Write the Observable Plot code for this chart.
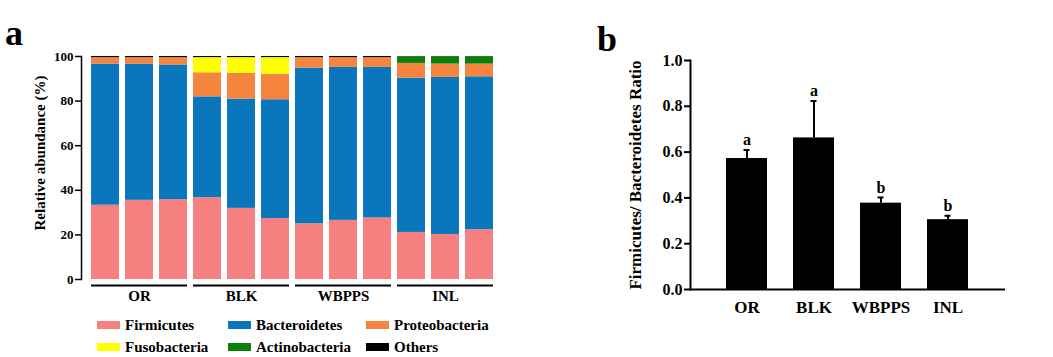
<!DOCTYPE html>
<html><head><meta charset="utf-8">
<script src="https://cdn.jsdelivr.net/npm/d3@7"></script>
<script src="https://cdn.jsdelivr.net/npm/@observablehq/plot@0.6"></script>
<style>
body{margin:0;background:#fff;}
#wrap{position:relative;width:1053px;height:357px;overflow:hidden;background:#fff;font-family:"Liberation Serif","Times New Roman",serif;font-weight:bold;color:#000;}
#a,#b{position:absolute;top:0;}
#a{left:0px}
#b{left:560px}
.panel{position:absolute;font-size:36px;font-weight:bold;line-height:1;}
.leg{position:absolute;font-size:15px;height:16px;display:flex;align-items:center;white-space:nowrap}
.sw{display:inline-block;width:23px;height:8px;margin-right:5px}
</style></head><body>
<div id="wrap">
  <div id="a"></div>
  <div id="b"></div>
  <div class="panel" style="left:5px;top:15px">a</div>
  <div class="panel" style="left:597px;top:21px">b</div>
  <div id="legend"></div>
</div>
<script>
// ---------- Panel a data ----------
const samples = ["OR-1","OR-2","OR-3","BLK-1","BLK-2","BLK-3","WBPPS-1","WBPPS-2","WBPPS-3","INL-1","INL-2","INL-3"];
const sampleGroup = ["OR","OR","OR","BLK","BLK","BLK","WBPPS","WBPPS","WBPPS","INL","INL","INL"];
const groups = ["OR","BLK","WBPPS","INL"];
const phyla = ["Firmicutes","Bacteroidetes","Proteobacteria","Fusobacteria","Actinobacteria","Others"];
const phylaColors = ["#f68080","#0a77bd","#f5843f","#ffff00","#0b800b","#000000"];
const firmicutes     = [33.3,35.5,35.8,36.7,31.9,27.3,25.0,26.5,27.6,21.1,20.2,22.3];
const bacteroidetes  = [63.3,61.1,60.4,45.2,49.0,53.3,69.8,68.6,67.5,69.2,70.4,68.6];
const proteobacteria = [ 2.9, 2.9, 3.3,10.8,11.5,11.4, 4.7, 4.4, 4.4, 6.6, 6.0, 5.7];
const fusobacteria   = [ 0.0, 0.0, 0.0, 6.8, 7.1, 7.5, 0.0, 0.0, 0.0, 0.0, 0.0, 0.0];
const actinobacteria = [ 0.0, 0.0, 0.0, 0.0, 0.0, 0.0, 0.0, 0.0, 0.0, 3.0, 3.3, 3.3];
const others         = [ 0.5, 0.5, 0.5, 0.5, 0.5, 0.5, 0.5, 0.5, 0.5, 0.1, 0.1, 0.1];
const yTicksA = [0,20,40,60,80,100];

// ---------- Panel b data ----------
const ratioGroups = ["OR","BLK","WBPPS","INL"];
const ratioMean = [0.572,0.662,0.377,0.305];
const ratioSD   = [0.037,0.161,0.025,0.017];
const sigLetters = ["a","a","b","b"];
const yTicksB = [0,0.2,0.4,0.6,0.8,1.0];

const font = "Liberation Serif, Times New Roman, serif";
const series = [firmicutes,bacteroidetes,proteobacteria,fusobacteria,actinobacteria,others];
const rows = [];
samples.forEach((s,i)=>phyla.forEach((p,j)=>rows.push({sample:s, phylum:p, value:series[j][i]})));
const firstOf = g => samples[sampleGroup.indexOf(g)];
const lastOf = g => samples[sampleGroup.lastIndexOf(g)];
const midOf = g => samples[sampleGroup.indexOf(g)+1];

const plotA = Plot.plot({
  width:520, height:310, marginLeft:81, marginRight:17, marginTop:56, marginBottom:31,
  style:{fontFamily:font, fontWeight:"bold", fontSize:"13px", background:"transparent", color:"#000"},
  x:{domain:samples, paddingInner:0.185, paddingOuter:0.233, axis:null},
  y:{domain:[0,100], axis:null},
  color:{domain:phyla, range:phylaColors},
  marks:[
    Plot.barY(rows,{x:"sample", y:"value", fill:"phylum", order:phyla}),
    Plot.frame({anchor:"left", strokeWidth:1.5}),
    Plot.axisY(yTicksA,{tickSize:6, tickPadding:2, fontSize:13, fontFamily:font, fontWeight:"bold", strokeWidth:1.5, label:null}),
    Plot.text(["Relative abundance (%)"],{text:d=>d, frameAnchor:"left", textAnchor:"middle", rotate:-90, dx:-41, dy:-15, fontSize:15, fontFamily:font, fontWeight:"bold"}),
    Plot.ruleY(groups,{x1:firstOf, x2:lastOf, y:()=>0, dy:6, strokeWidth:2}),
    Plot.text(groups,{x:midOf, text:d=>d, frameAnchor:"bottom", dy:21, fontSize:15, fontFamily:font, fontWeight:"bold"})
  ]
});
document.getElementById("a").appendChild(plotA);

const bdata = ratioGroups.map((g,i)=>({g, mean:ratioMean[i], top:ratioMean[i]+ratioSD[i], letter:sigLetters[i]}));
const plotB = Plot.plot({
  width:493, height:320, marginLeft:130, marginRight:48, marginTop:60, marginBottom:31,
  style:{fontFamily:font, fontWeight:"bold", fontSize:"15px", background:"transparent", color:"#000"},
  x:{domain:ratioGroups, paddingInner:0.383, paddingOuter:0.53, axis:null},
  y:{domain:[0,1], axis:null},
  marks:[
    Plot.barY(bdata,{x:"g", y:"mean", fill:"#000"}),
    Plot.ruleX(bdata,{x:"g", y1:"mean", y2:"top", strokeWidth:2}),
    Plot.tickY(bdata,{x:"g", y:"top", strokeWidth:2, insetLeft:17.5, insetRight:17.5}),
    Plot.text(bdata,{x:"g", y:"top", text:"letter", dy:-10, fontSize:16, fontFamily:font, fontWeight:"bold"}),
    Plot.ruleY([0],{strokeWidth:2}),
    Plot.frame({anchor:"left", strokeWidth:2}),
    Plot.axisY(yTicksB,{tickSize:6, tickPadding:2, tickFormat:d3.format(".1f"), fontSize:16, fontFamily:font, fontWeight:"bold", strokeWidth:2, label:null}),
    Plot.axisX({tickSize:0, tickPadding:11, fontSize:17, fontFamily:font, fontWeight:"bold", label:null}),
    Plot.text(["Firmicutes/ Bacteroidetes Ratio"],{text:d=>d, frameAnchor:"left", textAnchor:"middle", rotate:-90, dx:-55, dy:0, fontSize:17, fontFamily:font, fontWeight:"bold"})
  ]
});
document.getElementById("b").appendChild(plotB);

// ---------- Legend ----------
const legPos = [[97,317],[228,317],[366,317],[97,339],[228,339],[366,339]];
const leg = document.getElementById("legend");
phyla.forEach((p,i)=>{
  const d = document.createElement("div");
  d.className = "leg";
  d.style.left = legPos[i][0]+"px";
  d.style.top = legPos[i][1]+"px";
  d.innerHTML = `<span class="sw" style="background:${phylaColors[i]}"></span>${p}`;
  leg.appendChild(d);
});
</script>
</body></html>
